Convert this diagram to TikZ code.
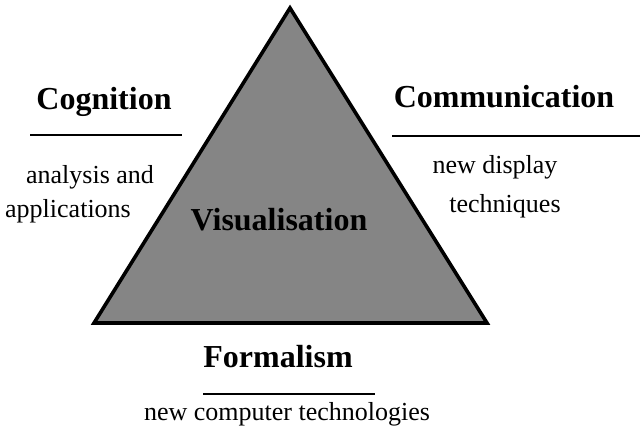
\documentclass[tikz,border=0pt]{standalone}
\usepackage{fontspec}
\setmainfont{Liberation Serif}
\usepackage{tikz}
\usetikzlibrary{positioning}

\begin{document}
\begin{tikzpicture}[x=0.5pt,y=-0.5pt,
    head/.style={font=\fontsize{16}{18}\selectfont\bfseries, anchor=base},
    sub/.style={font=\fontsize{13}{15}\selectfont, anchor=base},
    rule/.style={line width=1.4pt}]
	  \useasboundingbox (0,0) rectangle (640,438);

	  % the triangle
	  \coordinate (top) at (290,8);
	  \coordinate (left) at (94,323);
	  \coordinate (right) at (487,323);
	  \draw[line width=1.8pt, line join=miter, fill=black!48] (top) -- (left) -- (right) -- cycle;
	  \node[head] (vis) at (279,230) {Visualisation};

	  % corners
	  \node[head] (cog) at (104,110) {Cognition};
	  \node[head] (com) at (504,108) {Communication};
	  \node[head] (form) at (278,367) {Formalism};

	  \draw[rule] (30,135) -- (182,135);
	  \draw[rule] (392,136) -- (640,136);
	  \draw[rule] (203,394) -- (375,394);

	  \node[sub] (ana) at (90,183) {analysis and};
	  \node[sub] (app) at (68,217) {applications};
	  \node[sub] (disp) at (495,173) {new display};
	  \node[sub] (tech) at (505,212) {techniques};
	  \node[sub] (comp) at (287,420) {new computer technologies};

\end{tikzpicture}
\end{document}
